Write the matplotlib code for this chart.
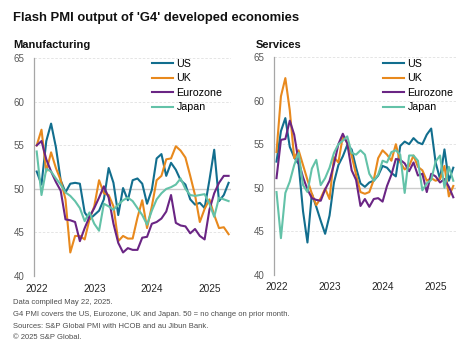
import matplotlib
matplotlib.use("Agg")
import matplotlib.pyplot as plt

plt.rcParams['font.family'] = ['Liberation Sans', 'DejaVu Sans']

# Monthly flash PMI output readings, Jan 2022 - May 2025
years = ["2022", "2023", "2024", "2025"]
series_names = ["US", "UK", "Eurozone", "Japan"]

us_mfg = [52.0, 50.5, 55.5, 57.5, 54.8, 51.0, 49.6, 50.6, 50.7, 50.6, 47.3, 46.5,
          47.0, 47.5, 48.8, 52.4, 50.7, 47.0, 50.1, 48.7, 51.0, 51.2, 50.6, 48.3,
          49.9, 53.5, 54.0, 51.5, 53.0, 52.2, 51.0, 50.5, 48.8, 48.2, 48.4, 47.8,
          51.0, 54.5, 48.6, 49.3, 50.7]
uk_mfg = [55.0, 56.8, 52.0, 54.2, 52.4, 51.0, 48.8, 42.7, 44.6, 44.6, 44.2, 46.5,
          48.0, 51.0, 49.5, 49.3, 48.0, 44.0, 44.6, 44.3, 44.3, 46.7, 48.7, 45.5,
          48.0, 51.0, 51.5, 53.4, 53.5, 54.9, 54.4, 53.6, 51.5, 49.3, 46.2, 47.7,
          48.8, 47.0, 45.5, 45.6, 44.8]
ez_mfg = [55.0, 55.5, 53.4, 52.0, 50.8, 49.8, 46.5, 46.4, 46.2, 44.0, 45.5, 46.8,
          47.8, 49.0, 50.3, 49.0, 46.0, 43.8, 42.7, 43.2, 43.0, 43.0, 44.4, 44.5,
          46.0, 46.2, 46.6, 47.4, 49.3, 46.1, 45.8, 45.7, 44.9, 45.4, 44.6, 44.2,
          47.6, 49.5, 50.7, 51.5, 51.5]
jp_mfg = [54.3, 49.3, 52.3, 52.0, 51.2, 50.5, 49.6, 49.2, 48.6, 47.8, 46.3, 47.3,
          46.0, 45.2, 48.3, 48.0, 47.6, 48.2, 48.7, 49.0, 48.6, 47.8, 47.0, 45.9,
          47.5, 48.8, 49.5, 50.0, 50.2, 50.5, 51.2, 50.0, 49.3, 49.2, 49.3, 49.4,
          48.3, 46.8, 49.0, 48.8, 48.6]

us_svc = [53.0, 56.5, 58.0, 54.7, 53.5, 52.7, 47.3, 43.7, 49.3, 47.8, 46.2, 44.7,
          46.8, 50.6, 52.6, 53.6, 54.9, 54.4, 52.3, 50.5, 50.1, 50.6, 50.8, 51.4,
          52.5, 52.3, 51.7, 51.3, 54.8, 55.3, 55.0, 55.7, 55.2, 55.0, 56.1, 56.8,
          52.9, 51.0, 54.4, 50.8, 52.3]
uk_svc = [54.1, 60.5, 62.6, 58.9, 53.4, 54.3, 52.6, 50.9, 49.3, 48.0, 48.8, 49.9,
          48.7, 53.5, 52.9, 55.9, 55.2, 53.7, 51.5, 49.5, 49.3, 49.5, 50.9, 53.4,
          54.3, 53.8, 53.1, 55.0, 52.9, 52.1, 52.5, 53.7, 52.4, 52.0, 50.8, 51.1,
          50.8, 51.0, 52.5, 49.0, 50.2]
ez_svc = [51.1, 55.5, 55.6, 57.7, 56.1, 53.0, 51.2, 49.8, 48.8, 48.6, 48.5, 49.8,
          50.8, 52.7, 55.0, 56.2, 55.1, 52.0, 50.9, 47.9, 48.7, 47.8, 48.7, 48.8,
          48.4, 50.2, 51.5, 53.3, 53.2, 52.8, 51.9, 52.9, 51.4, 51.6, 49.5, 51.6,
          51.3, 50.6, 51.0, 50.1, 48.9]
jp_svc = [49.5, 44.2, 49.4, 50.7, 52.6, 54.0, 50.3, 49.5, 52.2, 53.2, 50.3, 51.1,
          52.3, 54.0, 55.0, 55.4, 55.9, 54.0, 53.8, 54.3, 53.8, 51.6, 50.8, 51.5,
          53.1, 52.9, 54.1, 54.3, 53.8, 49.4, 53.7, 53.7, 53.1, 49.7, 50.5, 50.9,
          53.0, 53.7, 50.0, 52.4, 50.8]

colors = ["#126e8e", "#e8891d", "#6a2584", "#63c2a8"]

W, H = 466, 349
fig = plt.figure(figsize=(W / 100, H / 100), dpi=100)


def px_axes(x0, y_top, x1, y_bottom):
    return fig.add_axes([x0 / W, 1 - y_bottom / H, (x1 - x0) / W, (y_bottom - y_top) / H])


ax_m = px_axes(34.3, 58.3, 231.0, 276.0)
ax_s = px_axes(274.3, 57.2, 455.5, 274.7)

panels = [
    (ax_m, [us_mfg, uk_mfg, ez_mfg, jp_mfg], 152),
    (ax_s, [us_svc, uk_svc, ez_svc, jp_svc], 383),
]

for ax, data, leg_x in panels:
    months = list(range(len(data[0])))
    lines = []
    for vals, name, col in zip(data, series_names, colors):
        ln, = ax.plot(months, vals, color=col, lw=1.5, label=name,
                      solid_joinstyle="round", zorder=3)
        lines.append(ln)
    ax.set_ylim(40, 65)
    ax.set_xlim(-0.5, len(months) - 0.5)
    ax.set_yticks(range(40, 66, 5))
    ax.set_xticks([0, 12, 24, 36])
    ax.set_xticklabels(years)
    for sp in ("top", "right", "bottom"):
        ax.spines[sp].set_visible(False)
    ax.spines["left"].set_color("#a6a6a6")
    ax.spines["left"].set_linewidth(0.9)
    ax.yaxis.grid(True, color="#e0e0e0", lw=0.6, ls=(0, (3, 2)))
    ax.set_axisbelow(True)
    ax.axhline(50, color="#cccccc", lw=1.0, zorder=1)
    ax.tick_params(axis="y", length=0, pad=7, labelsize=7, labelcolor="#595959")
    ax.tick_params(axis="x", length=0, pad=5.5, labelsize=7.3, labelcolor="#262626")
    fig.legend(handles=lines, loc="upper left",
               bbox_to_anchor=(leg_x / W, 1 - 59 / H),
               frameon=False, fontsize=7.7, handlelength=2.0, handletextpad=0.3,
               labelspacing=0.42, borderpad=0, borderaxespad=0)

fig.text(13 / W, 1 - 18 / H, "Flash PMI output of 'G4' developed economies",
         fontsize=9.4, fontweight="bold", va="center", ha="left", color="#111111")
fig.text(13 / W, 1 - 45 / H, "Manufacturing", fontsize=8, fontweight="bold",
         va="center", ha="left", color="#111111")
fig.text(256 / W, 1 - 45 / H, "Services", fontsize=8, fontweight="bold",
         va="center", ha="left", color="#111111")

notes = [
    "Data compiled May 22, 2025.",
    "G4 PMI covers the US, Eurozone, UK and Japan. 50 = no change on prior month.",
    "Sources: S&P Global PMI with HCOB and au Jibun Bank.",
    "\u00a9 2025 S&P Global.",
]
for k, line in enumerate(notes):
    fig.text(13 / W, 1 - (303 + 11.6 * k) / H, line, fontsize=5.5,
             va="center", ha="left", color="#4d4d4d")

fig.savefig("out.png", dpi=100)
